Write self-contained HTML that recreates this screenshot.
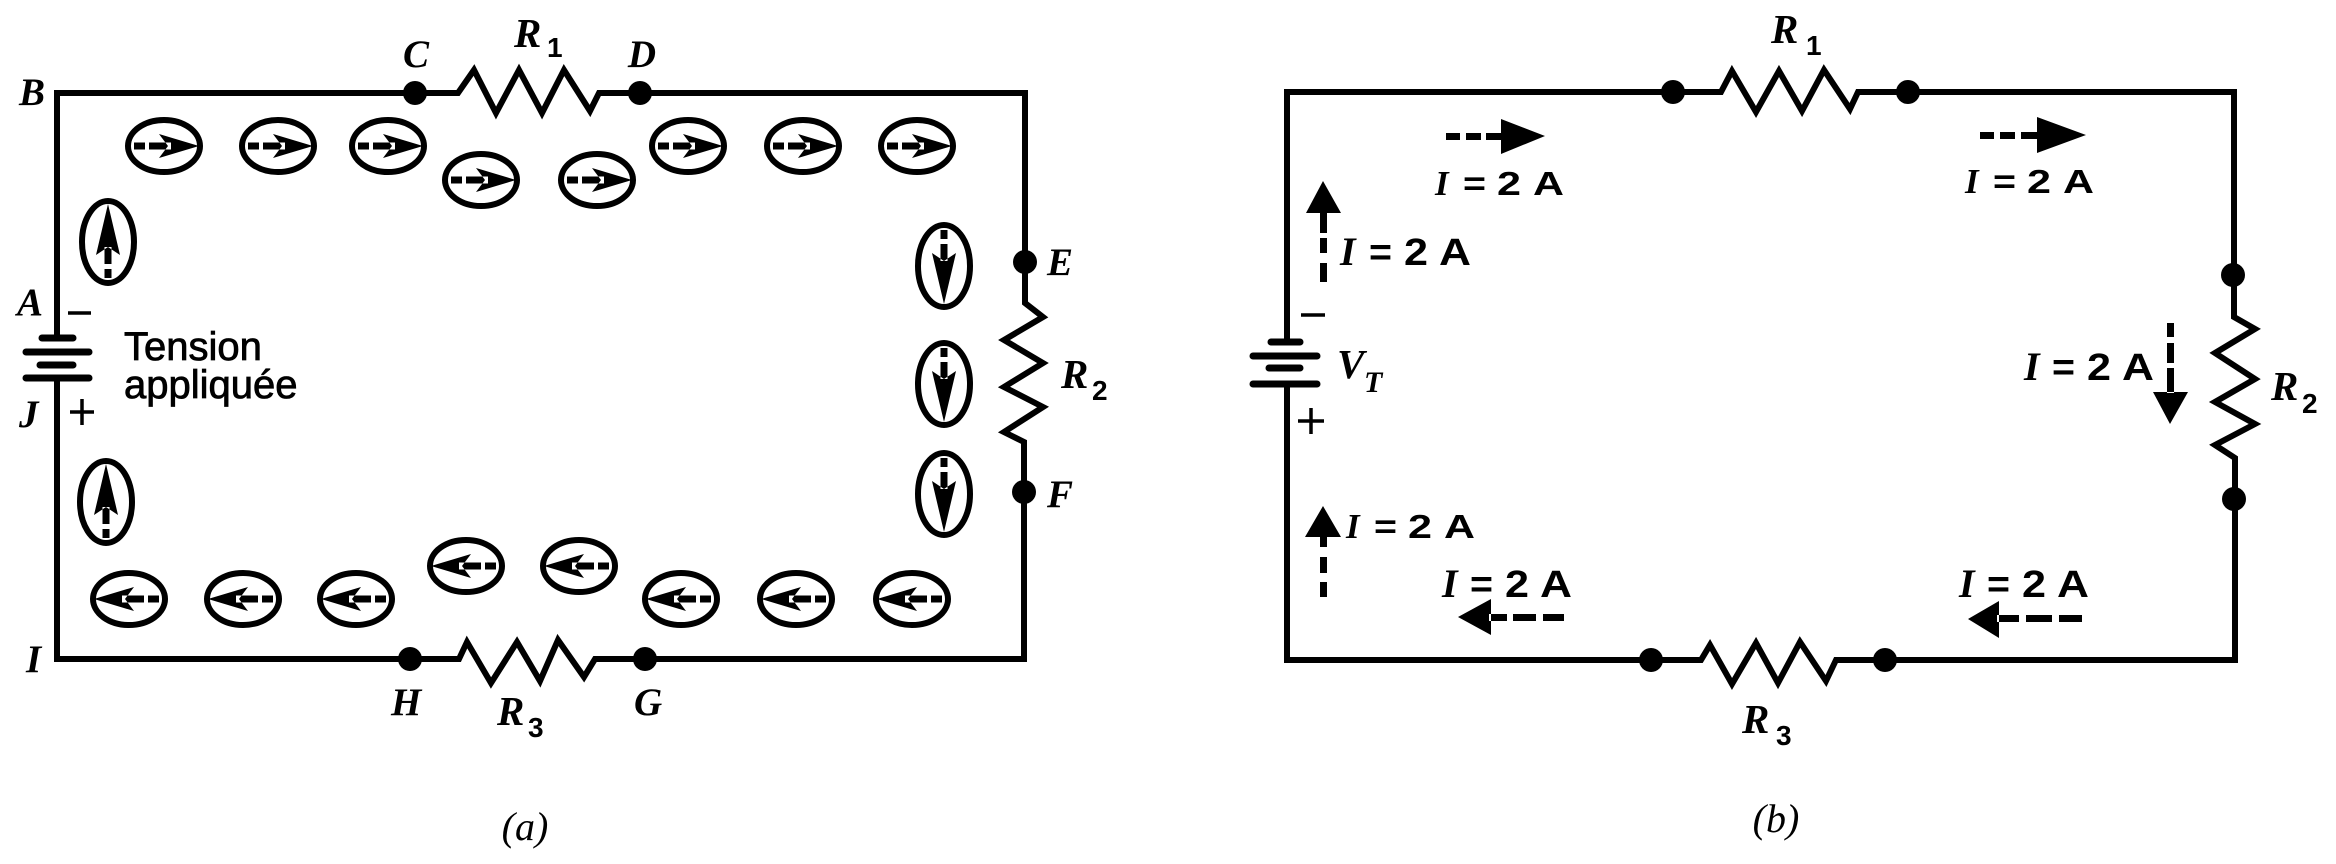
<!DOCTYPE html>
<html>
<head>
<meta charset="utf-8">
<style>
html,body{margin:0;padding:0;background:#fff;}
svg{display:block;}
.w{fill:none;stroke:#000;stroke-width:6;stroke-linejoin:miter;stroke-linecap:square;}
ellipse{fill:none;stroke:#000;stroke-width:6;}
.f{fill:#000;stroke:none;}
.pl{stroke:#000;stroke-width:7;stroke-linecap:round;}
.sg{stroke:#000;stroke-width:3.5;}
.lt{font-family:"Liberation Serif",serif;font-style:italic;font-weight:bold;font-size:39px;fill:#000;}
.rl{font-family:"Liberation Serif",serif;font-style:italic;font-weight:bold;font-size:41px;fill:#000;}
.sub{font-family:"Liberation Sans",sans-serif;font-weight:bold;font-size:28px;fill:#000;}
.ts{font-family:"Liberation Sans",sans-serif;font-size:40px;fill:#000;stroke:#000;stroke-width:0.8;}
.cap{font-family:"Liberation Serif",serif;font-style:italic;font-size:40px;fill:#000;}
.siL{font-family:"Liberation Serif",serif;font-style:italic;font-weight:bold;font-size:40px;fill:#000;}
.sbL{font-family:"Liberation Sans",sans-serif;font-weight:bold;font-size:38px;fill:#000;}
.siS{font-family:"Liberation Serif",serif;font-style:italic;font-weight:bold;font-size:35px;fill:#000;}
.sbS{font-family:"Liberation Sans",sans-serif;font-weight:bold;font-size:33px;fill:#000;}
</style>
</head>
<body>
<svg width="2336" height="864" viewBox="0 0 2336 864" xmlns="http://www.w3.org/2000/svg">
<rect width="2336" height="864" fill="#fff"/>

<!-- ================= (a) ================= -->
<path class="w" d="M57,338 V93 H458 L474,70 L496,113 L519,70 L542,113 L564,70 L590,111 L599,93 H1025 V303 L1043,317 L1004,340 L1043,363 L1004,387 L1043,407 L1004,432 L1024,442 V659 H595 L584,677 L558,640 L540,681 L517,642 L491,683 L467,642 L459,659 H57 V378"/>

<!-- battery a -->
<line class="pl" x1="42" y1="338" x2="73" y2="338"/>
<line class="pl" x1="26" y1="352" x2="89" y2="352"/>
<line class="pl" x1="40" y1="365" x2="73" y2="365"/>
<line class="pl" x1="26" y1="378" x2="89" y2="378"/>
<line class="sg" x1="68" y1="313" x2="91" y2="313"/>
<line class="sg" x1="70" y1="412" x2="94" y2="412"/>
<line class="sg" x1="82" y1="399" x2="82" y2="425"/>

<!-- dots a -->
<circle cx="415" cy="93" r="12"/>
<circle cx="640" cy="93" r="12"/>
<circle cx="1025" cy="262" r="12"/>
<circle cx="1024" cy="492" r="12"/>
<circle cx="410" cy="659" r="12"/>
<circle cx="645" cy="659" r="12"/>

<!-- ellipses top row (right arrows) -->
<g transform="translate(164,146)"><ellipse rx="36" ry="26"/><path class="f" d="M-30,-3.5h11v7h-11zM-15,-3.5h10v7h-10zM-5,-3.5h12v7h-12zM35,0L-5,-12L4,0L-5,12z"/></g>
<g transform="translate(278,146)"><ellipse rx="36" ry="26"/><path class="f" d="M-30,-3.5h11v7h-11zM-15,-3.5h10v7h-10zM-5,-3.5h12v7h-12zM35,0L-5,-12L4,0L-5,12z"/></g>
<g transform="translate(388,146)"><ellipse rx="36" ry="26"/><path class="f" d="M-30,-3.5h11v7h-11zM-15,-3.5h10v7h-10zM-5,-3.5h12v7h-12zM35,0L-5,-12L4,0L-5,12z"/></g>
<g transform="translate(481,180)"><ellipse rx="36" ry="26"/><path class="f" d="M-30,-3.5h11v7h-11zM-15,-3.5h10v7h-10zM-5,-3.5h12v7h-12zM35,0L-5,-12L4,0L-5,12z"/></g>
<g transform="translate(597,180)"><ellipse rx="36" ry="26"/><path class="f" d="M-30,-3.5h11v7h-11zM-15,-3.5h10v7h-10zM-5,-3.5h12v7h-12zM35,0L-5,-12L4,0L-5,12z"/></g>
<g transform="translate(688,146)"><ellipse rx="36" ry="26"/><path class="f" d="M-30,-3.5h11v7h-11zM-15,-3.5h10v7h-10zM-5,-3.5h12v7h-12zM35,0L-5,-12L4,0L-5,12z"/></g>
<g transform="translate(803,146)"><ellipse rx="36" ry="26"/><path class="f" d="M-30,-3.5h11v7h-11zM-15,-3.5h10v7h-10zM-5,-3.5h12v7h-12zM35,0L-5,-12L4,0L-5,12z"/></g>
<g transform="translate(917,146)"><ellipse rx="36" ry="26"/><path class="f" d="M-30,-3.5h11v7h-11zM-15,-3.5h10v7h-10zM-5,-3.5h12v7h-12zM35,0L-5,-12L4,0L-5,12z"/></g>

<!-- ellipses bottom row (left arrows) -->
<g transform="translate(129,599) scale(-1,1)"><ellipse rx="36" ry="26"/><path class="f" d="M-30,-3.5h11v7h-11zM-15,-3.5h10v7h-10zM-5,-3.5h12v7h-12zM35,0L-5,-12L4,0L-5,12z"/></g>
<g transform="translate(243,599) scale(-1,1)"><ellipse rx="36" ry="26"/><path class="f" d="M-30,-3.5h11v7h-11zM-15,-3.5h10v7h-10zM-5,-3.5h12v7h-12zM35,0L-5,-12L4,0L-5,12z"/></g>
<g transform="translate(356,599) scale(-1,1)"><ellipse rx="36" ry="26"/><path class="f" d="M-30,-3.5h11v7h-11zM-15,-3.5h10v7h-10zM-5,-3.5h12v7h-12zM35,0L-5,-12L4,0L-5,12z"/></g>
<g transform="translate(466,566) scale(-1,1)"><ellipse rx="36" ry="26"/><path class="f" d="M-30,-3.5h11v7h-11zM-15,-3.5h10v7h-10zM-5,-3.5h12v7h-12zM35,0L-5,-12L4,0L-5,12z"/></g>
<g transform="translate(579,566) scale(-1,1)"><ellipse rx="36" ry="26"/><path class="f" d="M-30,-3.5h11v7h-11zM-15,-3.5h10v7h-10zM-5,-3.5h12v7h-12zM35,0L-5,-12L4,0L-5,12z"/></g>
<g transform="translate(681,599) scale(-1,1)"><ellipse rx="36" ry="26"/><path class="f" d="M-30,-3.5h11v7h-11zM-15,-3.5h10v7h-10zM-5,-3.5h12v7h-12zM35,0L-5,-12L4,0L-5,12z"/></g>
<g transform="translate(796,599) scale(-1,1)"><ellipse rx="36" ry="26"/><path class="f" d="M-30,-3.5h11v7h-11zM-15,-3.5h10v7h-10zM-5,-3.5h12v7h-12zM35,0L-5,-12L4,0L-5,12z"/></g>
<g transform="translate(912,599) scale(-1,1)"><ellipse rx="36" ry="26"/><path class="f" d="M-30,-3.5h11v7h-11zM-15,-3.5h10v7h-10zM-5,-3.5h12v7h-12zM35,0L-5,-12L4,0L-5,12z"/></g>

<!-- vertical ellipses left (up) -->
<g transform="translate(108,242)"><ellipse rx="26" ry="41"/><path class="f" d="M0,-38L-12,13L0,5L12,13zM-3.5,5h7v17h-7zM-3.5,27h7v9h-7z"/></g>
<g transform="translate(106,502)"><ellipse rx="26" ry="41"/><path class="f" d="M0,-38L-12,13L0,5L12,13zM-3.5,5h7v17h-7zM-3.5,27h7v9h-7z"/></g>
<!-- vertical ellipses right (down) -->
<g transform="translate(944,266) rotate(180)"><ellipse rx="26" ry="41"/><path class="f" d="M0,-38L-12,13L0,5L12,13zM-3.5,5h7v17h-7zM-3.5,27h7v9h-7z"/></g>
<g transform="translate(944,384) rotate(180)"><ellipse rx="26" ry="41"/><path class="f" d="M0,-38L-12,13L0,5L12,13zM-3.5,5h7v17h-7zM-3.5,27h7v9h-7z"/></g>
<g transform="translate(944,494) rotate(180)"><ellipse rx="26" ry="41"/><path class="f" d="M0,-38L-12,13L0,5L12,13zM-3.5,5h7v17h-7zM-3.5,27h7v9h-7z"/></g>

<!-- labels a -->
<text class="lt" x="19" y="105">B</text>
<text class="lt" x="416" y="67" text-anchor="middle">C</text>
<text class="lt" x="642" y="67" text-anchor="middle">D</text>
<text class="rl" x="514" y="47">R</text><text class="sub" x="547" y="57">1</text>
<text class="lt" x="1047" y="275">E</text>
<text class="rl" x="1061" y="388">R</text><text class="sub" x="1092" y="400">2</text>
<text class="lt" x="1047" y="507">F</text>
<text class="lt" x="634" y="715">G</text>
<text class="lt" x="391" y="715">H</text>
<text class="rl" x="497" y="725">R</text><text class="sub" x="528" y="737">3</text>
<text class="lt" x="26" y="672">I</text>
<text class="lt" x="17" y="315">A</text>
<text class="lt" x="19" y="427">J</text>
<text class="ts" x="124" y="360">Tension</text>
<text class="ts" x="124" y="398">appliquée</text>
<text class="cap" x="525" y="840" text-anchor="middle">(a)</text>

<!-- ================= (b) ================= -->
<path class="w" d="M1287,340 V92 H1721 L1732,71 L1756,112 L1779,71 L1802,111 L1824,70 L1850,109 L1858,92 H2234 V317 L2255,329 L2215,353 L2255,379 L2215,402 L2255,424 L2215,445 L2235,458 V660 H1836 L1826,681 L1800,642 L1778,683 L1756,643 L1732,684 L1710,645 L1701,660 H1287 V384"/>

<!-- battery b -->
<line class="pl" x1="1271" y1="342" x2="1300" y2="342"/>
<line class="pl" x1="1253" y1="356" x2="1317" y2="356"/>
<line class="pl" x1="1269" y1="368" x2="1300" y2="368"/>
<line class="pl" x1="1253" y1="384" x2="1317" y2="384"/>
<line class="sg" x1="1301" y1="315" x2="1325" y2="315"/>
<line class="sg" x1="1298" y1="421" x2="1324" y2="421"/>
<line class="sg" x1="1311" y1="408" x2="1311" y2="434"/>

<!-- dots b -->
<circle cx="1673" cy="92" r="12"/>
<circle cx="1908" cy="92" r="12"/>
<circle cx="2233" cy="275" r="12"/>
<circle cx="2234" cy="499" r="12"/>
<circle cx="1885" cy="660" r="12"/>
<circle cx="1651" cy="660" r="12"/>

<!-- current arrows b -->
<path class="f" d="M1446,133h14v7h-14zM1466,133h15v7h-15zM1486,133h16v7h-16zM1501,119L1545,136L1501,154z"/>
<path class="f" d="M1980,132h14v7h-14zM2000,132h15v7h-15zM2021,132h17v7h-17zM2037,117L2086,135L2037,153z"/>
<path class="f" d="M1306,213L1323,181L1341,213zM1320,211h7v22h-7zM1320,238h7v15h-7zM1320,263h7v19h-7z"/>
<path class="f" d="M2167,323h7v14h-7zM2167,343h7v20h-7zM2167,368h7v25h-7zM2153,392L2170,424L2188,392z"/>
<path class="f" d="M1305,537L1323,506L1341,537zM1320,535h7v12h-7zM1320,557h7v16h-7zM1320,582h7v15h-7z"/>
<path class="f" d="M1491,599L1458,617L1491,635zM1489,614h18v7h-18zM1513,614h23v7h-23zM1543,614h21v7h-21z"/>
<path class="f" d="M1999,601L1968,619L1999,638zM1997,615h22v7h-22zM2026,615h26v7h-26zM2059,615h23v7h-23z"/>

<!-- I = 2 A labels -->
<text class="siS" x="1435" y="195">I</text>
<text class="sbS" x="1463" y="195" textLength="23" lengthAdjust="spacingAndGlyphs">=</text>
<text class="sbS" x="1497" y="195" textLength="24" lengthAdjust="spacingAndGlyphs">2</text>
<text class="sbS" x="1533" y="195" textLength="31" lengthAdjust="spacingAndGlyphs">A</text>

<text class="siS" x="1965" y="193">I</text>
<text class="sbS" x="1993" y="193" textLength="23" lengthAdjust="spacingAndGlyphs">=</text>
<text class="sbS" x="2027" y="193" textLength="24" lengthAdjust="spacingAndGlyphs">2</text>
<text class="sbS" x="2063" y="193" textLength="31" lengthAdjust="spacingAndGlyphs">A</text>

<text class="siL" x="1340" y="265">I</text>
<text class="sbL" x="1369" y="265" textLength="23" lengthAdjust="spacingAndGlyphs">=</text>
<text class="sbL" x="1404" y="265" textLength="24" lengthAdjust="spacingAndGlyphs">2</text>
<text class="sbL" x="1439" y="265" textLength="32" lengthAdjust="spacingAndGlyphs">A</text>

<text class="siL" x="2024" y="380">I</text>
<text class="sbL" x="2052" y="380" textLength="23" lengthAdjust="spacingAndGlyphs">=</text>
<text class="sbL" x="2087" y="380" textLength="24" lengthAdjust="spacingAndGlyphs">2</text>
<text class="sbL" x="2122" y="380" textLength="32" lengthAdjust="spacingAndGlyphs">A</text>

<text class="siS" x="1346" y="538">I</text>
<text class="sbS" x="1374" y="538" textLength="23" lengthAdjust="spacingAndGlyphs">=</text>
<text class="sbS" x="1408" y="538" textLength="24" lengthAdjust="spacingAndGlyphs">2</text>
<text class="sbS" x="1444" y="538" textLength="31" lengthAdjust="spacingAndGlyphs">A</text>

<text class="siL" x="1442" y="597">I</text>
<text class="sbL" x="1470" y="597" textLength="23" lengthAdjust="spacingAndGlyphs">=</text>
<text class="sbL" x="1505" y="597" textLength="24" lengthAdjust="spacingAndGlyphs">2</text>
<text class="sbL" x="1540" y="597" textLength="32" lengthAdjust="spacingAndGlyphs">A</text>

<text class="siL" x="1959" y="597">I</text>
<text class="sbL" x="1987" y="597" textLength="23" lengthAdjust="spacingAndGlyphs">=</text>
<text class="sbL" x="2022" y="597" textLength="24" lengthAdjust="spacingAndGlyphs">2</text>
<text class="sbL" x="2057" y="597" textLength="32" lengthAdjust="spacingAndGlyphs">A</text>

<!-- labels b -->
<text class="rl" x="1771" y="43">R</text><text class="sub" x="1806" y="55">1</text>
<text class="rl" x="2271" y="400">R</text><text class="sub" x="2302" y="413">2</text>
<text class="rl" x="1742" y="733">R</text><text class="sub" x="1776" y="745">3</text>
<text class="rl" x="1337" y="378">V</text><text class="lt" x="1364" y="392" style="font-size:30px">T</text>
<text class="cap" x="1776" y="832" text-anchor="middle">(b)</text>
</svg>
</body>
</html>
